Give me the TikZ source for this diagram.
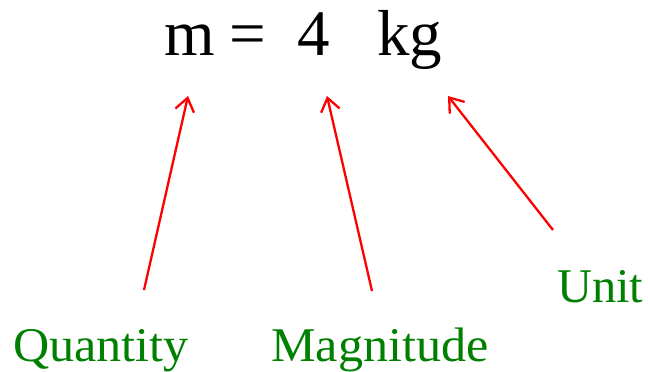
\documentclass[tikz,border=0pt]{standalone}
\usepackage{fontspec}
\setmainfont{Liberation Serif}
\usetikzlibrary{arrows.meta}
\definecolor{lblgreen}{RGB}{0,128,0}
\tikzset{
  big/.style={inner sep=0pt, anchor=base west, font=\fontsize{65}{65}\selectfont},
  lbl/.style={inner sep=0pt, anchor=base west, text=lblgreen, font=\fontsize{44}{44}\selectfont},
  ptr/.style={draw=red, line width=2.3pt, -{Straight Barb[length=13pt,width=19pt,line width=2.3pt]}}
}
\newcommand{\lbltext}[1]{\scalebox{1.14}[1.1]{#1}}
\begin{document}
\begin{tikzpicture}[x=1pt,y=-1pt]
\useasboundingbox (0,0) rectangle (648,372);
\node[big] (m) at (164,55) {m};
\node[big] (eq) at (229,55) {=};
\node[big] (four) at (297,55) {4};
\node[big] (kg) at (377,55) {kg};
\node[lbl] (q) at (13,361) {\lbltext{Quantity}};
\node[lbl] (mag) at (271,361) {\lbltext{Magnitude}};
\node[lbl] (u) at (557,302) {\scalebox{1.1}[1.1]{Unit}};
\coordinate (t1) at (144,290);
\coordinate (h1) at (188,96);
\coordinate (t2) at (372,291);
\coordinate (h2) at (327,96);
\coordinate (t3) at (553,230);
\coordinate (h3) at (448,96);
\draw[ptr] (t1) -- (h1);
\draw[ptr] (t2) -- (h2);
\draw[ptr] (t3) -- (h3);
\end{tikzpicture}
\end{document}
